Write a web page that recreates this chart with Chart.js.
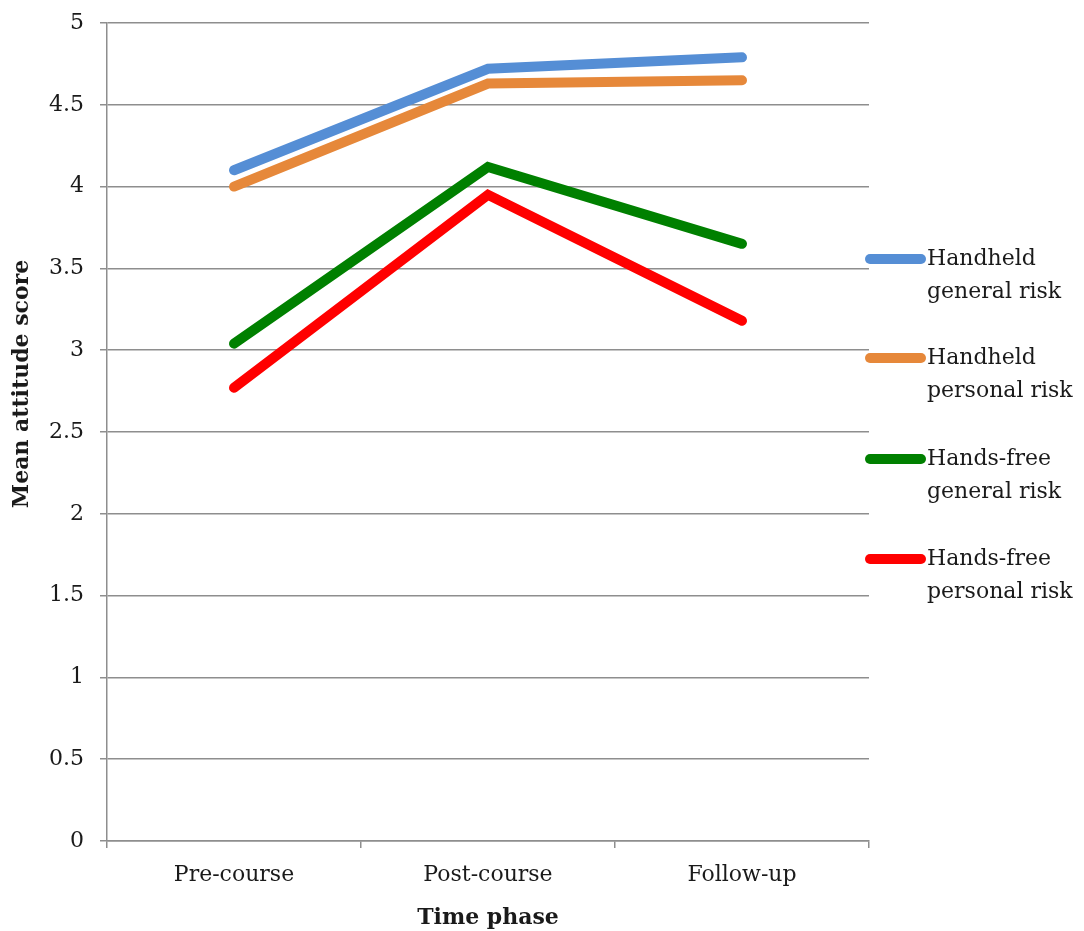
<!DOCTYPE html>
<html>
<head>
<meta charset="utf-8">
<script src="https://cdn.jsdelivr.net/npm/chart.js@4"></script>
<style>
  html, body { margin: 0; padding: 0; background: #fff; }
  #wrap { width: 1084px; height: 931px; }
</style>
</head>
<body>
<div id="wrap"><canvas id="chart" width="1084" height="931"></canvas></div>
<script>
// data
const phases = ["Pre-course", "Post-course", "Follow-up"];
const handheldGeneral = [4.10, 4.72, 4.79];
const handheldPersonal = [4.00, 4.63, 4.65];
const handsfreeGeneral = [3.04, 4.12, 3.65];
const handsfreePersonal = [2.77, 3.95, 3.18];
const seriesNames = [
  ["Handheld", "general risk"],
  ["Handheld", "personal risk"],
  ["Hands-free", "general risk"],
  ["Hands-free", "personal risk"]
];
const seriesColors = ["#558ed5", "#e6883a", "#008000", "#ff0000"];
const yTicks = [0, 0.5, 1, 1.5, 2, 2.5, 3, 3.5, 4, 4.5, 5];
const yTitle = "Mean attitude score";

const FONT = "'DejaVu Serif', serif";
const gridColor = "#8e8e8e";
const textColor = "#1a1a1a";

// legend on the right with two-line labels, plus the y title
const sideLegend = {
  id: "sideLegend",
  afterDraw(chart) {
    const ctx = chart.ctx;
    const rows = [259, 358, 459, 559];
    ctx.save();
    chart.data.datasets.forEach((ds, i) => {
      const y = rows[i];
      ctx.strokeStyle = ds.borderColor;
      ctx.lineWidth = 10;
      ctx.lineCap = "round";
      ctx.beginPath();
      ctx.moveTo(870, y);
      ctx.lineTo(921, y);
      ctx.stroke();
      ctx.fillStyle = textColor;
      ctx.font = "22px " + FONT;
      ctx.textBaseline = "middle";
      ctx.textAlign = "left";
      seriesNames[i].forEach((t, k) => ctx.fillText(t, 927, y + k * 33));
    });
    // y title
    ctx.translate(22, 384);
    ctx.rotate(-Math.PI / 2);
    ctx.font = "bold 22px " + FONT;
    ctx.textAlign = "center";
    ctx.textBaseline = "middle";
    ctx.fillText(yTitle, 0, 0);
    ctx.restore();
  }
};

const series = [handheldGeneral, handheldPersonal, handsfreeGeneral, handsfreePersonal];

new Chart(document.getElementById("chart"), {
  type: "line",
  data: {
    labels: phases,
    datasets: series.map((d, i) => ({
      label: seriesNames[i].join(" "),
      data: d,
      borderColor: seriesColors[i],
      backgroundColor: seriesColors[i],
      borderWidth: 10,
      borderCapStyle: "round",
      borderJoinStyle: "miter",
      pointRadius: 0,
      tension: 0,
      fill: false
    }))
  },
  options: {
    responsive: false,
    animation: false,
    layout: { padding: { top: 23, right: 215, left: 0, bottom: 0 } },
    plugins: { legend: { display: false }, tooltip: { enabled: false } },
    scales: {
      x: {
        offset: true,
        afterFit: (s) => { s.height = 90; s.paddingLeft = 0; s.paddingRight = 0; },
        grid: {
          offset: true,
          drawOnChartArea: false,
          drawTicks: true,
          tickLength: 7,
          color: gridColor,
          lineWidth: 1.5
        },
        border: { color: gridColor, width: 1.5 },
        ticks: { color: textColor, font: { family: FONT, size: 22 }, padding: 14, maxRotation: 0 },
        title: {
          display: true,
          text: "Time phase",
          color: textColor,
          font: { family: FONT, size: 22, weight: "bold" },
          padding: { top: 8, bottom: 0 }
        }
      },
      y: {
        min: 0,
        max: 5,
        afterFit: (s) => { s.width = 107; s.paddingTop = 0; s.paddingBottom = 0; },
        afterBuildTicks: (s) => { s.ticks = yTicks.map((v) => ({ value: v })); },
        grid: { color: gridColor, lineWidth: 1.5, tickLength: 7 },
        border: { color: gridColor, width: 1.5 },
        ticks: {
          color: textColor,
          font: { family: FONT, size: 22 },
          padding: 16,
          callback: (v) => String(v)
        }
      }
    }
  },
  plugins: [sideLegend]
});
</script>
</body>
</html>
